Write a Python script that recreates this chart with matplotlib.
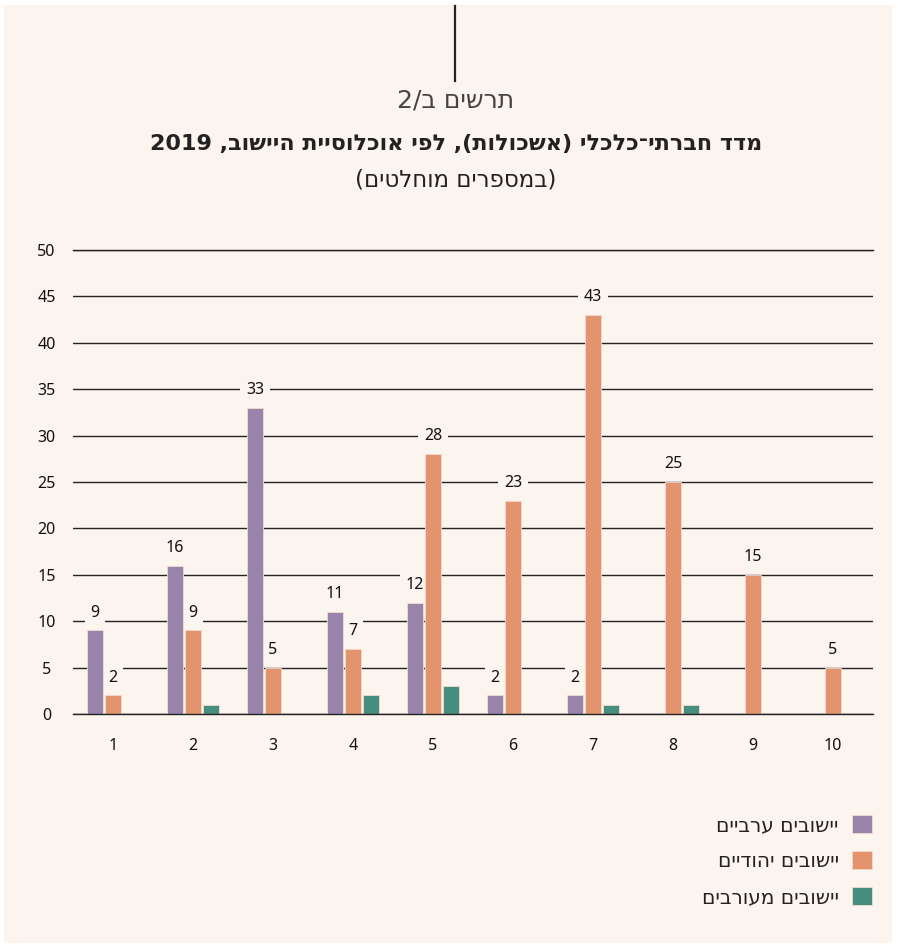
import numpy as np
import matplotlib
matplotlib.use("Agg")
import matplotlib.pyplot as plt
from matplotlib.patches import Rectangle

plt.rcParams['font.family'] = ['Noto Sans', 'DejaVu Sans']
HEB = ['DejaVu Sans']

# data
clusters = ['1', '2', '3', '4', '5', '6', '7', '8', '9', '10']
arab = [9, 16, 33, 11, 12, 2, 2, 0, 0, 0]
jewish = [2, 9, 5, 7, 28, 23, 43, 25, 15, 5]
mixed = [0, 1, 0, 2, 3, 0, 1, 1, 0, 0]
series_names = ['יישובים ערביים', 'יישובים יהודיים', 'יישובים מעורבים']
chart_no = 'תרשים ב/2'
title = 'מדד חברתי־כלכלי (אשכולות), לפי אוכלוסיית היישוב, 2019'
subtitle = '(במספרים מוחלטים)'

BG = '#fcf4ef'
colors = ['#9883ab', '#e3946f', '#468f7e']


def rtl(s):
    # crude visual ordering for hebrew: reverse, keep digit runs, mirror brackets
    out = []
    run = ''
    for ch in s[::-1]:
        if ch.isdigit():
            run += ch
        else:
            if run:
                out.append(run[::-1])
                run = ''
            out.append({'(': ')', ')': '('}.get(ch, ch))
    if run:
        out.append(run[::-1])
    return ''.join(out)


fig = plt.figure(figsize=(8.98, 9.44), dpi=100)
fig.patch.set_facecolor('white')
fig.patches.append(Rectangle((4 / 898, 1 / 944), 888 / 898, 938 / 944,
                             transform=fig.transFigure, facecolor=BG,
                             edgecolor='none', zorder=-10))
fig.add_artist(plt.Line2D([455 / 898, 455 / 898], [1 - 6 / 944, 1 - 81 / 944],
                          color='#222222', lw=1.6))

fig.text(456 / 898, 1 - 100 / 944, rtl(chart_no), ha='center', va='center',
         fontsize=18, color='#444444', family=HEB)
fig.text(456 / 898, 1 - 144 / 944, rtl(title), ha='center', va='center',
         fontsize=16, fontweight='bold', color='#222222', family=HEB)
fig.text(456 / 898, 1 - 180 / 944, rtl(subtitle), ha='center', va='center',
         fontsize=16.5, color='#222222', family=HEB)

ax = fig.add_axes([73 / 898, 1 - 714 / 944, 800 / 898, 464 / 944])
ax.set_facecolor('none')
x = np.arange(len(clusters))
w = 0.19
step = 0.225
groups = [arab, jewish, mixed]
for i, (vals, c, name) in enumerate(zip(groups, colors, series_names)):
    bars = ax.bar(x + (i - 1) * step, vals, width=w, color=c,
                  edgecolor='#f6d9c9', linewidth=0.6, label=rtl(name), zorder=3)
    if i < 2:
        for b, v in zip(bars, vals):
            if v > 0:
                ax.annotate(str(v), (b.get_x() + b.get_width() / 2, v),
                            xytext=(0, 7), textcoords='offset points',
                            ha='center', va='bottom', fontsize=11.5,
                            color='#111111', zorder=2,
                            bbox=dict(boxstyle='square,pad=0.35', fc=BG, ec='none'))

ax.set_xlim(-0.5, len(clusters) - 0.5)
ax.set_ylim(0, 50)
ax.set_yticks(range(0, 51, 5))
ax.set_xticks(x)
ax.set_xticklabels(clusters)
for s in ax.spines.values():
    s.set_visible(False)
ax.grid(axis='y', color='#222222', lw=1, zorder=1)
ax.set_axisbelow(True)
ax.tick_params(axis='both', length=0, labelsize=11.5, colors='#111111')
ax.tick_params(axis='y', pad=19)
ax.tick_params(axis='x', pad=17)
for lab in ax.get_yticklabels():
    lab.set_horizontalalignment('center')
ax.axhline(50, color='#222222', lw=1, zorder=1, clip_on=False)
ax.axhline(0, color='#222222', lw=1, zorder=5, clip_on=False)

leg = fig.legend(loc='upper right', bbox_to_anchor=(872 / 898, 1 - 815 / 944),
                 frameon=False, markerfirst=False, prop={'family': HEB, 'size': 14.5},
                 handlelength=1.0, handleheight=1.0, labelspacing=0.8,
                 handletextpad=0.65, borderaxespad=0, borderpad=0)
for t in leg.get_texts():
    t.set_color('#222222')

fig.savefig('out.png', dpi=100, facecolor=fig.get_facecolor())
